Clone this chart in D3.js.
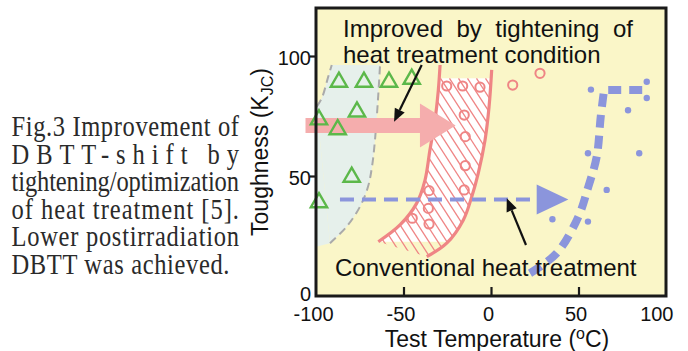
<!DOCTYPE html>
<html><head><meta charset="utf-8">
<script src="https://cdn.jsdelivr.net/npm/d3@7"></script>
<style>body{margin:0;background:#fff;} svg{display:block;}</style>
</head><body>
<svg id="chart" width="688" height="351"></svg>
<script>
// ---------- data ----------
const xTickLabels = [-100, -50, 0, 50, 100];
const yTickLabels = [0, 50, 100];
const xTickMarks = [-50, 0, 50];
const yTickMarks = [50, 100];

const captionLines = ["Fig.3 Improvement of", "DBTT-shift by", "tightening/optimization",
  "of heat treatment [5].", "Lower postirradiation", "DBTT was achieved."];

// green open triangles
const triangles = [[-86.9,90],[-72.6,90],[-58.3,90],[-45.3,91.2],[-98.3,74.3],[-76.6,77.6],
  [-87.6,70.2],[-79.6,50.4],[-98.3,39.8]];
// red open circles (improved heat treatment)
const circles = [[-25.3,87.5],[-16.2,87.5],[-6.3,87],[12.4,87.9],[28,92.8],[-15.3,75.4],
  [-14.7,66.4],[-14.7,54.3],[-15.3,44.2],[-35.4,43.9],[-35.8,36.5],[-45,32.4],[-35.4,30]];
// blue dots (conventional heat treatment)
const dots = [[57.1,86],[89,89.3],[89,82.5],[78.3,77.4],[55.4,59.5],[84.7,59.5],
  [66.1,44.2],[55.4,31],[35.1,32]];

// light band bounded by grey dashed lines
const bandLeftEdge = [[-99.6,78.9],[-96.7,82.4],[-93,91.4],[-91,96.25]];
const bandRightEdge = [[-92,22],[-82.5,28.9],[-74.9,37.2],[-70.3,45.5],[-68,53.9],
  [-66.3,65],[-64.6,81.7],[-63.4,96.25]];
const bandBottom = 20.5;

// red hatched band
const hatchLeft = [[-64.4,22.6],[-52,29.6],[-42.5,38.6],[-37.7,48.3],[-34.9,60.8],
  [-32,73.3],[-30.1,85.8],[-29.1,96.25]];
const hatchRight = [[-36.7,16.4],[-25.3,22],[-15.8,31.7],[-11,41.4],[-7.3,51.1],
  [-3.4,65],[-1.1,78.9],[0.4,94.2]];
const hatchBand = [22.6, 90.7];

// thick blue dashed transition curve
const blueCurve = [[22.3,9.5],[37.5,17.8],[49.9,33],[55.6,45.5],[60.4,58],[62.7,74.7],[64.6,85.8]];
const blueCurveTop = [[64.6,85.8],[87.5,85.8]];

// arrows: [x start, x head base, x tip, y]
const pinkArrow = [-106, -40.6, -20.2, 71];
const blueArrow = [-86.3, 26.1, 44.2, 40.2];
// black pointer arrows: [[x0,y0],[x1,y1]]
const pointer1 = [[-39.6,96.25],[-55.4,72.6]];
const pointer2 = [[20,21.25],[9,40.7]];

// ---------- drawing ----------
const svg = d3.select("#chart");
const x = d3.scaleLinear().domain([-100, 100]).range([316, 666]);
const y = d3.scaleLinear().domain([0, 120]).range([296, 8]);
const px = d => [x(d[0]), y(d[1])];
const sans = "'Liberation Sans', Arial, sans-serif";

const YELLOW = "#faf6c8", BAND = "#e6f0eb", GREY = "#aaaaaa";
const RED = "#ef8585", PINK = "#f5adad", BLUE = "#8b95dc", GREEN = "#5cb84a";

const defs = svg.append("defs");

// plot background
svg.append("rect").attr("x", x(-100)).attr("y", y(120))
  .attr("width", x(100) - x(-100)).attr("height", y(0) - y(120)).attr("fill", YELLOW);

const cr = d3.line().x(d => x(d[0])).y(d => y(d[1])).curve(d3.curveCatmullRom.alpha(0.5));
const lin = d3.line().x(d => x(d[0])).y(d => y(d[1]));

// light band
svg.append("path")
  .attr("d", cr(bandLeftEdge.slice().reverse()) + cr(bandRightEdge).replace(/^M/, "L") + "Z")
  .attr("fill", BAND);
svg.append("path")
  .attr("d", "M" + x(-100) + "," + y(bandLeftEdge[0][1]) + "L" + x(-100) + "," + y(bandBottom) +
    "L" + x(bandRightEdge[0][0]) + "," + y(bandRightEdge[0][1]) + "L" + x(bandLeftEdge[0][0]) + "," + y(bandLeftEdge[0][1]) + "Z")
  .attr("fill", BAND);
[bandLeftEdge, bandRightEdge].forEach(e => {
  svg.append("path").attr("d", cr(e)).attr("fill", "none").attr("stroke", GREY)
    .attr("stroke-width", 2).attr("stroke-dasharray", "8,5");
});

// hatched band
const regionD = cr(hatchLeft) + cr(hatchRight.slice().reverse()).replace(/^M/, "L") + "Z";
defs.append("clipPath").attr("id", "hclip").append("path").attr("d", regionD);
const hg = svg.append("g").attr("clip-path", "url(#hclip)");
hg.append("rect").attr("x", x(-100)).attr("y", y(hatchBand[1]))
  .attr("width", x(100) - x(-100)).attr("height", y(hatchBand[0]) - y(hatchBand[1]))
  .attr("fill", "#ffffff");
const topPx = y(hatchBand[1]), botPx = y(0);
const slope = 1.55, spacing = 9;
for (let k = -40; k < 30; k++) {
  const xs = x(-70) + k * spacing;
  hg.append("line").attr("x1", xs).attr("y1", topPx)
    .attr("x2", xs + (botPx - topPx) / slope).attr("y2", botPx)
    .attr("stroke", RED).attr("stroke-width", 1.3);
}
[hatchLeft, hatchRight].forEach(e => {
  svg.append("path").attr("d", cr(e)).attr("fill", "none")
    .attr("stroke", RED).attr("stroke-width", 3.2);
});

// pink arrow
(function () {
  const [xa, xb, xt, yv] = pinkArrow;
  const yc = y(yv), hb = 7.5, hh = 22;
  const pts = [[x(xa), yc - hb], [x(xb), yc - hb], [x(xb), yc - hh], [x(xt), yc],
    [x(xb), yc + hh], [x(xb), yc + hb], [x(xa), yc + hb]];
  svg.append("polygon").attr("points", pts.map(p => p.join(",")).join(" "))
    .attr("fill", PINK);
})();

// blue dashed arrow
(function () {
  const [xa, xb, xt, yv] = blueArrow;
  const yc = y(yv);
  svg.append("line").attr("x1", x(xa)).attr("x2", x(xb) - 2).attr("y1", yc).attr("y2", yc)
    .attr("stroke", BLUE).attr("stroke-width", 4).attr("stroke-dasharray", "14,8");
  svg.append("polygon")
    .attr("points", [[x(xb), yc - 15], [x(xt), yc], [x(xb), yc + 15]].map(p => p.join(",")).join(" "))
    .attr("fill", BLUE);
})();

// thick blue dashed curve
svg.append("path")
  .attr("d", cr(blueCurve) + lin(blueCurveTop).replace(/^M/, "L"))
  .attr("fill", "none").attr("stroke", BLUE).attr("stroke-width", 8)
  .attr("stroke-dasharray", "13,8").attr("stroke-linejoin", "miter");

// markers
const tri = d3.symbol().type(d3.symbolTriangle).size(115);
svg.append("g").selectAll("path").data(triangles).join("path")
  .attr("d", tri).attr("transform", d => `translate(${x(d[0])},${y(d[1]) + 2})`)
  .attr("fill", "none").attr("stroke", GREEN).attr("stroke-width", 2.4);
svg.append("g").selectAll("circle").data(circles).join("circle")
  .attr("cx", d => x(d[0])).attr("cy", d => y(d[1])).attr("r", 4.6)
  .attr("fill", "none").attr("stroke", RED).attr("stroke-width", 2);
svg.append("g").selectAll("circle").data(dots).join("circle")
  .attr("cx", d => x(d[0])).attr("cy", d => y(d[1])).attr("r", 3.2)
  .attr("fill", BLUE);

// frame
svg.append("rect").attr("x", x(-100)).attr("y", y(120))
  .attr("width", x(100) - x(-100)).attr("height", y(0) - y(120))
  .attr("fill", "none").attr("stroke", "#1a1a1a").attr("stroke-width", 3);

// axes tick marks
const xMarks = svg.append("g").attr("transform", `translate(0,${y(0)})`)
  .call(d3.axisBottom(x).tickValues(xTickMarks).tickSize(-9).tickFormat(""));
const yMarks = svg.append("g").attr("transform", `translate(${x(-100)},0)`)
  .call(d3.axisLeft(y).tickValues(yTickMarks).tickSize(6).tickFormat(""));
[xMarks, yMarks].forEach(g => {
  g.select(".domain").remove();
  g.selectAll("line").attr("stroke", "#1a1a1a").attr("stroke-width", 2.2);
});

// tick labels
const xLab = svg.append("g").attr("transform", `translate(0,${y(0)})`)
  .call(d3.axisBottom(x).tickValues(xTickLabels).tickSize(0).tickPadding(10.5).tickFormat(d => String(d)));
const yLab = svg.append("g").attr("transform", `translate(${x(-100)},0)`)
  .call(d3.axisLeft(y).tickValues(yTickLabels).tickSize(0).tickPadding(5).tickFormat(d => String(d)));
[xLab, yLab].forEach(g => {
  g.select(".domain").remove();
  g.selectAll("text").attr("font-family", sans).attr("font-size", 20).attr("fill", "#111");
});
xLab.selectAll("text").attr("dx", -3);
xLab.selectAll("text").filter(d => d === 100).attr("text-anchor", "end").attr("dx", 7);
yLab.selectAll("text").attr("dy", "0.42em");
yLab.selectAll("text").filter(d => d === 0).attr("dy", "0.2em");

// axis titles
const xt = svg.append("text").attr("x", 497).attr("y", 347).attr("text-anchor", "middle")
  .attr("font-family", sans).attr("font-size", 23).attr("fill", "#111");
xt.append("tspan").text("Test Temperature (");
xt.append("tspan").attr("font-size", 16).attr("dy", -8).text("o");
xt.append("tspan").attr("dy", 8).text("C)");

const yt = svg.append("text").attr("transform", "translate(268,152) rotate(-90)")
  .attr("text-anchor", "middle").attr("font-family", sans).attr("font-size", 23).attr("fill", "#111");
yt.append("tspan").text("Toughness (K");
yt.append("tspan").attr("font-size", 16).attr("dy", 5).text("JC");
yt.append("tspan").attr("dy", -5).text(")");

// annotations
const ann = svg.append("g").attr("font-family", sans).attr("font-size", 24).attr("fill", "#111");
ann.append("text").attr("x", 343).attr("y", 36.7).attr("word-spacing", 6.8)
  .text("Improved by tightening of");
ann.append("text").attr("x", 343).attr("y", 63.3).text("heat treatment condition");
ann.append("text").attr("x", 335).attr("y", 276).text("Conventional heat treatment");

// pointer arrows
function pointer(p) {
  const [a, b] = p.map(px);
  const ang = Math.atan2(b[1] - a[1], b[0] - a[0]);
  const len = 13, half = 5.5;
  const base = [b[0] - len * Math.cos(ang), b[1] - len * Math.sin(ang)];
  svg.append("line").attr("x1", a[0]).attr("y1", a[1]).attr("x2", base[0]).attr("y2", base[1])
    .attr("stroke", "#111").attr("stroke-width", 2.2);
  const pts = [b, [base[0] + half * Math.sin(ang), base[1] - half * Math.cos(ang)],
    [base[0] - half * Math.sin(ang), base[1] + half * Math.cos(ang)]];
  svg.append("polygon").attr("points", pts.map(q => q.join(",")).join(" ")).attr("fill", "#111");
}
pointer(pointer1);
pointer(pointer2);

// caption on the left
const cap = svg.append("g").attr("font-family", "'Liberation Serif', 'Times New Roman', serif")
  .attr("font-size", 24.5).attr("fill", "#2a2a2a");
captionLines.forEach((t, i) => {
  cap.append("text")
    .attr("transform", `translate(11.5,${136 + i * 27.5}) scale(1,1.16)`)
    .attr("x", 0).attr("y", 0).text(t)
    .attr("textLength", i < 5 ? 227.5 : 218).attr("lengthAdjust", "spacing");
});
</script>
</body></html>
